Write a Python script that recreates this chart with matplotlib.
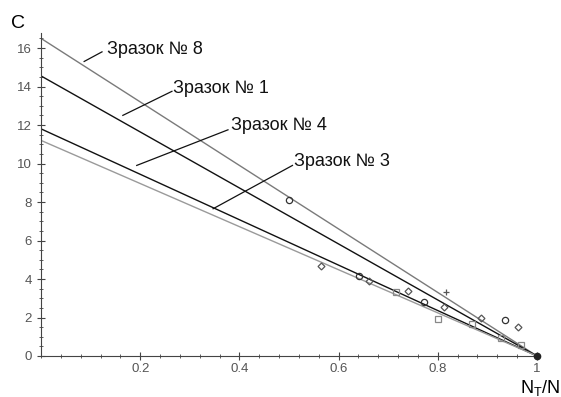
import numpy as np
import matplotlib.pyplot as plt
from matplotlib.ticker import MultipleLocator

plt.rcParams['font.family'] = ['Liberation Sans', 'DejaVu Sans']

# fitted lines: C(0) for each sample, all go to 0 at N_T/N = 1
samples = ['Зразок № 8', 'Зразок № 1', 'Зразок № 4', 'Зразок № 3']
c0 = [16.5, 14.55, 11.8, 11.2]
line_colors = ['#7a7a7a', '#111111', '#111111', '#9a9a9a']

# measured points
circ_x = [0.50, 0.642, 0.773, 0.936]
circ_y = [8.1, 4.15, 2.8, 1.87]
diam_x = [0.565, 0.662, 0.739, 0.813, 0.888, 0.962]
diam_y = [4.67, 3.9, 3.4, 2.55, 2.0, 1.5]
sq_x = [0.716, 0.80, 0.868, 0.928, 0.967]
sq_y = [3.3, 1.9, 1.66, 0.93, 0.57]
cross_x = [0.817]
cross_y = [3.3]

# label text position (data coords) and leader line ends
lab_xy = [(0.133, 15.9), (0.267, 13.9), (0.383, 12.0), (0.51, 10.1)]
lead_from = [(0.087, 15.3), (0.165, 12.5), (0.193, 9.9), (0.347, 7.65)]
lead_to = [(0.123, 15.8), (0.264, 13.75), (0.377, 11.75), (0.507, 9.9)]

fig = plt.figure(figsize=(5.61, 3.97), dpi=100)
ax = fig.add_axes([41/561, 1-356/397, 496/561, 323.4/397])

xs = np.array([0.0, 1.0])
for c, col in zip(c0, line_colors):
    ax.plot(xs, c*(1-xs), color=col, lw=1.0)

ax.plot(circ_x, circ_y, 'o', mfc='none', mec='#333333', ms=4.5, mew=0.9)
ax.plot(diam_x, diam_y, 'D', mfc='none', mec='#555555', ms=3.5, mew=0.9)
ax.plot(sq_x, sq_y, 's', mfc='none', mec='#888888', ms=4.5, mew=0.9)
ax.plot(cross_x, cross_y, '+', color='#555555', ms=5, mew=0.9)
ax.plot([1.0], [0.0], 'o', color='#222222', ms=4.5, clip_on=False, zorder=5)

for s, (tx, ty), (x1, y1), (x2, y2) in zip(samples, lab_xy, lead_from, lead_to):
    ax.plot([x1, x2], [y1, y2], color='#111111', lw=0.9)
    ax.text(tx, ty, s, fontsize=13, va='center', ha='left', color='#111111')

ax.set_xlim(0, 1.0)
ax.set_ylim(0, 16.8)
for sp in ['top', 'right']:
    ax.spines[sp].set_visible(False)
ax.spines['left'].set_color('#444444')
ax.spines['bottom'].set_color('#444444')

ax.set_xticks([0.2, 0.4, 0.6, 0.8, 1.0])
ax.set_xticklabels(['0.2', '0.4', '0.6', '0.8', '1'])
ax.set_yticks(range(0, 17, 2))
ax.xaxis.set_minor_locator(MultipleLocator(0.04))
ax.yaxis.set_minor_locator(MultipleLocator(0.5))
ax.tick_params(which='major', direction='inout', length=6, labelsize=9.5,
               labelcolor='#555555', color='#444444')
ax.tick_params(which='minor', direction='inout', length=3, color='#444444')
ax.tick_params(axis='x', pad=2)

fig.text(18/561, 1-24/397, 'C', fontsize=14, ha='center', va='center')
fig.text(560/561, 1-388/397, r'N$_\mathregular{T}$/N', fontsize=13, ha='right', va='center')

fig.savefig('out.png', dpi=100)
